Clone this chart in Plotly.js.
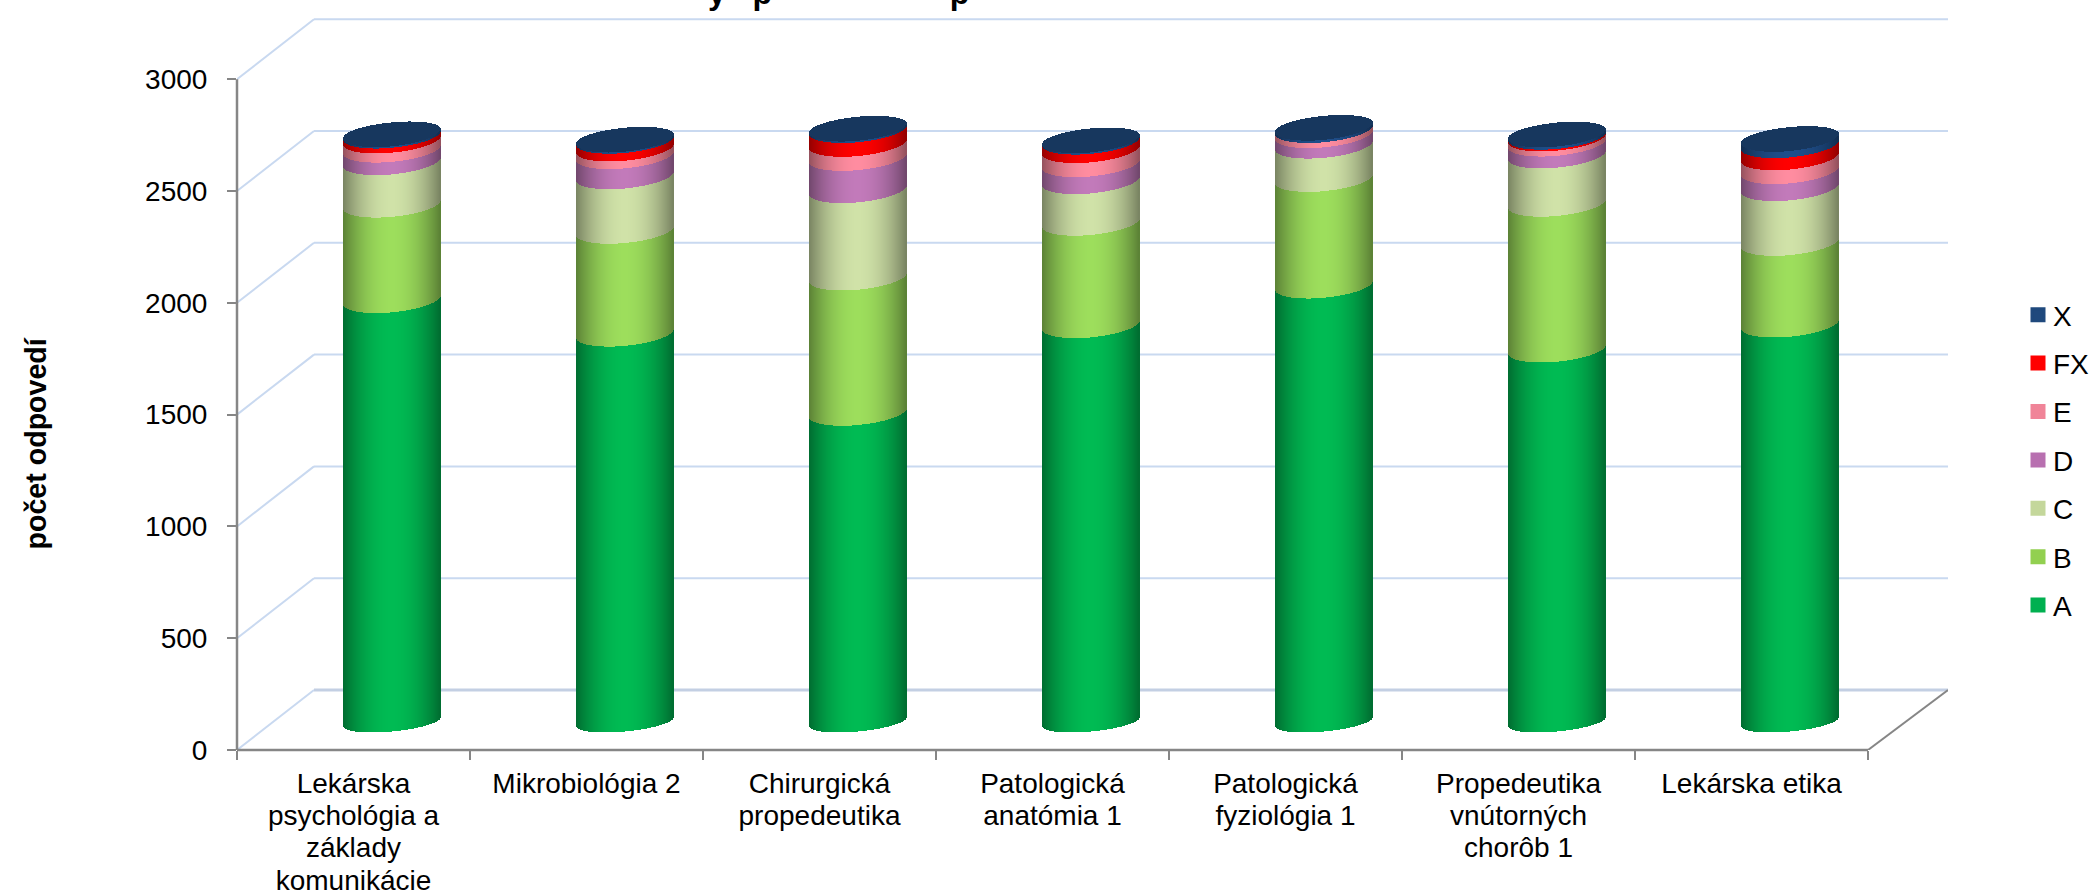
<!DOCTYPE html>
<html><head><meta charset="utf-8">
<script src="https://cdn.plot.ly/plotly-3.0.1.min.js"></script>
<style>html,body{margin:0;padding:0;background:#fff;overflow:hidden}</style>
</head><body><div id="chart" style="width:2096px;height:893px"></div>
<script>
const categories = ["Lekárska<br>psychológia a<br>základy<br>komunikácie","Mikrobiológia 2","Chirurgická<br>propedeutika","Patologická<br>anatómia 1","Patologická<br>fyziológia 1","Propedeutika<br>vnútorných<br>chorôb 1","Lekárska etika"];
const seriesNames = ["A","B","C","D","E","FX","X"];
const A  = [1887,1737,1383,1775,1952,1666,1778];
const B  = [427,460,605,458,477,652,365];
const C  = [190,244,391,186,149,216,245];
const D  = [56,90,144,76,47,53,76];
const E  = [41,34,63,63,25,23,62];
const FX = [24,37,64,40,0,10,54];
const X  = [4,3,4,4,8,8,28];
const seriesValues = [A,B,C,D,E,FX,X];
const legendColors = ["#00B050","#92D050","#C4D79B","#B870B0","#F08498","#FF0000","#1F497D"];
const centerColors = [[0,187,83],[157,222,92],[208,226,168],[194,122,186],[255,140,160],[255,0,0],[31,78,138]];
const capColor = "#17375E";
const yTicks = [0,500,1000,1500,2000,2500,3000];

// 3-D look, expressed in axis units
const pxX = 233, pxY = 0.2236;
const backDX = 77/pxX, backDV = 60/pxY;
const xMax = 1711/pxX, yMax = 732/pxY;
const barShift = 38.5/pxX, halfW = 48.7/pxX;
const lift = 28.5/pxY, ellH = 12.7/pxY, ellT = 4.5/pxY, floorH = 10/pxY, capH = 24/pxY;
const strips = 98;

function shade(rgb,u){const f=1-0.42*u*u;return `rgb(${rgb.map(c=>Math.round(c*f)).join(",")})`;}

const traces = seriesNames.map((name,s)=>{
  const t={x:[0],y:[0],base:[0],width:[0.001],color:[legendColors[s]],lw:[3],lc:[legendColors[s]]};
  const add=(x,b,h,c)=>{t.x.push(x);t.base.push(b);t.y.push(h);t.width.push(1/pxX);t.color.push(c);t.lw.push(0);t.lc.push(c);};
  categories.forEach((_,i)=>{
    let lo=0; for(let k=0;k<s;k++) lo+=seriesValues[k][i];
    const v=seriesValues[s][i], cx=i+0.5+barShift;
    for(let n=0;n<strips;n++){
      const u=-1+(2*n+1)/strips, r=Math.sqrt(1-u*u);
      const eh = s===0 ? floorH : ellH;
      if(v>0){
        const b=lift+lo+ellT*u-eh*r, top=lift+lo+v+ellT*u-ellH*r;
        add(cx+u*halfW, b, top-b, shade(centerColors[s],u));
      }
      if(s===6) add(cx+u*halfW, lift+lo+v+ellT*u-ellH*r, capH*r, capColor);
    }
  });
  return {type:"bar",name,legendgroup:name,legendrank:7-s,x:t.x,y:t.y,base:t.base,width:t.width,hoverinfo:"skip",
    marker:{color:t.color,opacity:1,line:{width:t.lw,color:t.lc}}};
});

const gridC="#C9D9F0", axisC="#868686";
const line=(x0,y0,x1,y1,c,w,extra)=>Object.assign({type:"line",xref:"x",yref:"y",x0,y0,x1,y1,line:{color:c,width:w},layer:"below"},extra||{});
const shapes=[];
yTicks.forEach(v=>{
  shapes.push(line(0,v,backDX,v+backDV,gridC,2));
  shapes.push(line(backDX,v+backDV,xMax,v+backDV,v===0?"#C3CFE3":gridC,v===0?3:2));
});
shapes.push(line(7,0,xMax,backDV,axisC,2));
shapes.push({type:"line",xref:"paper",yref:"y",x0:0,x1:0,y0:0,y1:3000,line:{color:axisC,width:2.5},layer:"above"});
shapes.push({type:"line",xref:"x",yref:"paper",x0:0,x1:7,y0:0,y1:0,line:{color:axisC,width:2.5},layer:"above"});

const font28={family:"Arial, 'Liberation Sans', sans-serif",size:28,color:"#000"};
const layout={
  width:2096,height:893,paper_bgcolor:"#fff",plot_bgcolor:"rgba(0,0,0,0)",
  margin:{l:237,r:148,t:18,b:143,autoexpand:false},
  barmode:"overlay",bargap:0,showlegend:true,hovermode:false,dragmode:false,
  title:{text:"y"+"\u00A0".repeat(3)+"p"+"\u00A0".repeat(20)+"p",font:{family:"Arial, 'Liberation Sans', sans-serif",size:32,color:"#000",weight:700},
    xref:"container",yref:"container",x:708/2096,xanchor:"left",y:0.995,yanchor:"bottom"},
  xaxis:{type:"linear",range:[0,xMax],tickmode:"array",tickvals:categories.map((_,i)=>i+0.5),ticktext:categories,
    tickfont:font28,ticks:"",ticklen:0,showgrid:false,zeroline:false,showline:false,tickangle:0,ticklabelstandoff:14,
    minor:{tickmode:"array",tickvals:[0,1,2,3,4,5,6,7],ticks:"outside",ticklen:9,tickwidth:2,tickcolor:axisC,showgrid:false}},
  yaxis:{range:[0,yMax],tickmode:"array",tickvals:yTicks,tickfont:font28,ticks:"outside",ticklen:9,tickwidth:2,tickcolor:axisC,
    showgrid:false,zeroline:false,showline:false,ticklabelstandoff:14,ticklabelshift:1.5},
  legend:{x:(2018-237)/1711,xanchor:"left",y:(750-460)/732,yanchor:"middle",traceorder:"grouped",tracegroupgap:9,font:font28,bgcolor:"rgba(0,0,0,0)"},
  shapes,
  annotations:[{text:"<b>počet odpovedí</b>",xref:"paper",yref:"paper",x:(36-237)/1711,y:(750-443.5)/732,textangle:-90,showarrow:false,xanchor:"center",yanchor:"middle",font:Object.assign({},font28,{size:28.6})}]
};
Plotly.newPlot("chart",traces,layout,{displayModeBar:false}).then(()=>{
  document.querySelectorAll(".xtick text tspan.line").forEach(t=>{
    const d=parseFloat(t.getAttribute("dy")||"0");
    t.setAttribute("dy",(d/1.3*1.15)+"em");
  });
  document.querySelectorAll(".legendtext").forEach(t=>{
    t.setAttribute("x",parseFloat(t.getAttribute("x")||"0")-5);
  });
});
</script></body></html>
